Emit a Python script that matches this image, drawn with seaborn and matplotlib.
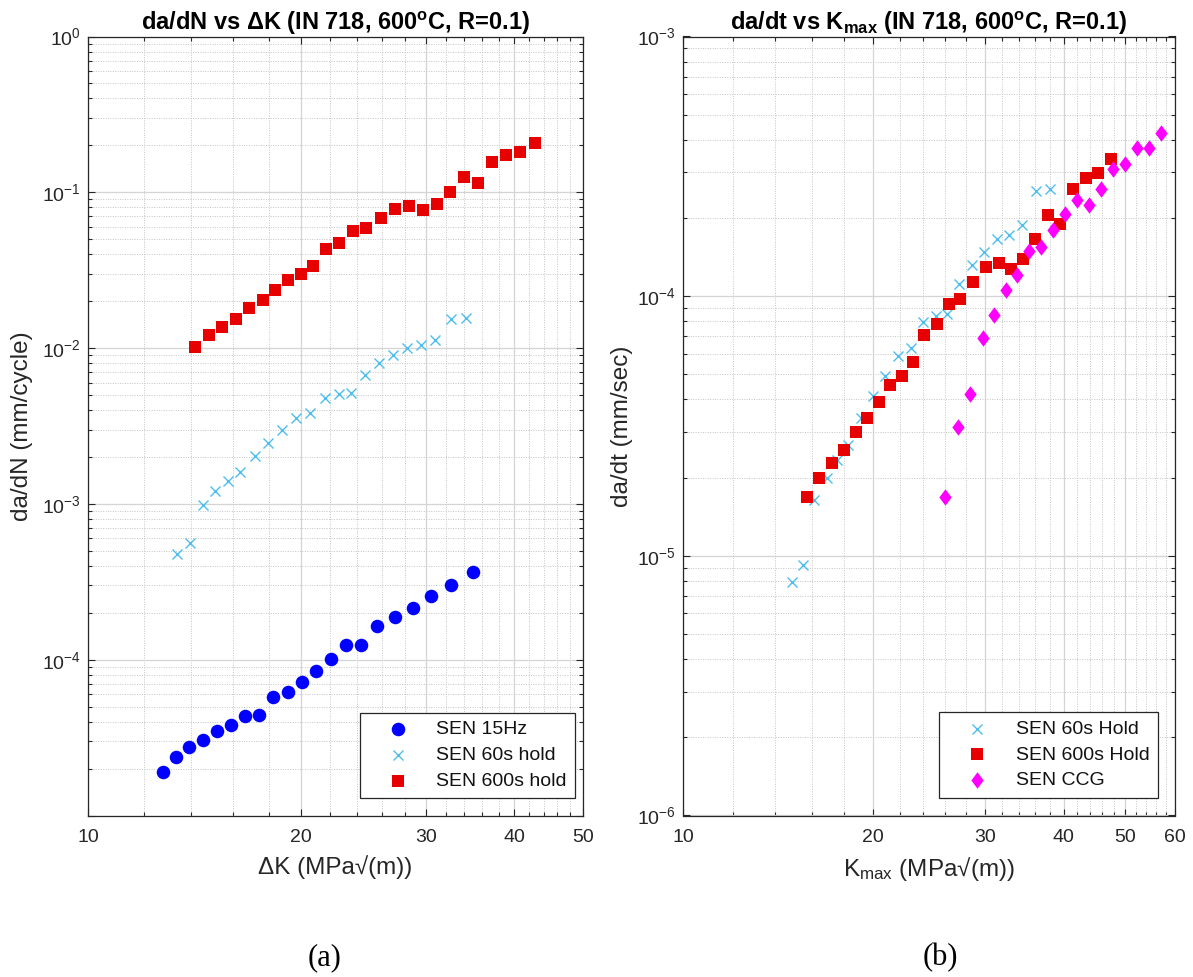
import numpy as np
import pandas as pd
import matplotlib
matplotlib.use("Agg")
import matplotlib.pyplot as plt
import matplotlib.ticker as mticker
import seaborn as sns

# ---------------- data ----------------
# (a) da/dN vs Delta K
K_15hz = [12.75, 13.32, 13.89, 14.52, 15.19, 15.90, 16.64, 17.46, 18.27, 19.13, 20.07,
          21.02, 22.07, 23.15, 24.31, 25.63, 27.13, 28.75, 30.54, 32.53, 34.98]
dadN_15hz = [1.91e-5, 2.36e-5, 2.77e-5, 3.04e-5, 3.51e-5, 3.83e-5, 4.37e-5, 4.40e-5, 5.79e-5,
             6.18e-5, 7.23e-5, 8.43e-5, 1.006e-4, 1.242e-4, 1.237e-4, 1.644e-4, 1.887e-4,
             2.134e-4, 2.56e-4, 3.03e-4, 3.66e-4]

K_60s = [13.36, 13.95, 14.52, 15.13, 15.78, 16.41, 17.19, 17.97, 18.81, 19.69, 20.60,
         21.58, 22.58, 23.53, 24.60, 25.75, 26.95, 28.20, 29.53, 30.91, 32.53, 34.19]
dadN_60s = [4.76e-4, 5.57e-4, 9.86e-4, 1.206e-3, 1.413e-3, 1.603e-3, 2.03e-3, 2.47e-3, 2.97e-3,
            3.54e-3, 3.83e-3, 4.81e-3, 5.07e-3, 5.15e-3, 6.75e-3, 8.01e-3, 9.02e-3, 1.007e-2,
            1.045e-2, 1.132e-2, 1.543e-2, 1.566e-2]

K_600s = [14.15, 14.81, 15.47, 16.18, 16.90, 17.64, 18.39, 19.16, 19.96, 20.78, 21.70, 22.63,
          23.66, 24.71, 25.92, 27.13, 28.44, 29.73, 31.09, 32.49, 34.01, 35.51, 37.20, 38.94,
          40.74, 42.77]
dadN_600s = [0.01015, 0.01206, 0.01364, 0.01528, 0.01805, 0.0204, 0.02354, 0.02756, 0.02998,
             0.03374, 0.04313, 0.0471, 0.0568, 0.0591, 0.0685, 0.0782, 0.0818, 0.0772, 0.0843,
             0.101, 0.1248, 0.1154, 0.1573, 0.1726, 0.1805, 0.2061]

# (b) da/dt vs Kmax
Kmax_60s = [14.86, 15.47, 16.12, 16.88, 17.51, 18.22, 19.10, 19.98, 20.90, 21.89, 22.93,
            24.00, 25.14, 26.14, 27.33, 28.62, 29.97, 31.39, 32.83, 34.43, 36.18, 38.08]
dadt_60s = [7.94e-6, 9.23e-6, 1.644e-5, 1.994e-5, 2.344e-5, 2.67e-5, 3.39e-5, 4.14e-5, 4.94e-5,
            5.87e-5, 6.32e-5, 7.94e-5, 8.42e-5, 8.55e-5, 1.118e-4, 1.323e-4, 1.477e-4,
            1.659e-4, 1.723e-4, 1.878e-4, 2.54e-4, 2.58e-4]

Kmax_600s = [15.73, 16.43, 17.19, 18.00, 18.76, 19.55, 20.42, 21.28, 22.18, 23.11, 24.09,
             25.20, 26.33, 27.44, 28.76, 30.16, 31.60, 33.04, 34.55, 36.06, 37.84, 39.50,
             41.37, 43.43, 45.41, 47.57]
dadt_600s = [1.688e-5, 1.994e-5, 2.277e-5, 2.55e-5, 2.99e-5, 3.39e-5, 3.90e-5, 4.56e-5,
             4.94e-5, 5.57e-5, 7.11e-5, 7.82e-5, 9.36e-5, 9.73e-5, 1.136e-4, 1.293e-4,
             1.344e-4, 1.274e-4, 1.393e-4, 1.663e-4, 2.06e-4, 1.90e-4, 2.59e-4, 2.85e-4,
             2.99e-4, 3.36e-4]

Kmax_ccg = [25.98, 27.27, 28.48, 29.80, 31.09, 32.40, 33.81, 35.31, 36.89, 38.54, 40.22,
            42.06, 43.89, 45.80, 47.80, 49.93, 52.24, 54.62, 57.05]
dadt_ccg = [1.688e-5, 3.14e-5, 4.20e-5, 6.88e-5, 8.49e-5, 1.06e-4, 1.208e-4, 1.486e-4,
            1.545e-4, 1.80e-4, 2.07e-4, 2.34e-4, 2.24e-4, 2.59e-4, 3.10e-4, 3.22e-4,
            3.73e-4, 3.73e-4, 4.26e-4]

xticks_a = [10, 20, 30, 40, 50]
xticks_b = [10, 20, 30, 40, 50, 60]

# ---------------- style ----------------
plt.rcParams['font.family'] = ['Liberation Sans', 'DejaVu Sans']
plt.rcParams['mathtext.fontset'] = 'custom'
plt.rcParams['mathtext.rm'] = 'Liberation Sans'
plt.rcParams['mathtext.it'] = 'Liberation Sans'
plt.rcParams['mathtext.bf'] = 'Liberation Sans:bold'
plt.rcParams['mathtext.default'] = 'regular'

AX_COLOR = '#262626'
FS_TICK = 14
FS_LEG = 14
FS_LABEL = 17.5
FS_TITLE = 17

W, H = 1193, 977
fig = plt.figure(figsize=(W / 100, H / 100), dpi=100)

top_px, bot_px = 36.5, 815.5


def make_ax(x0, x1):
    return fig.add_axes([x0 / W, 1 - bot_px / H, (x1 - x0) / W, (bot_px - top_px) / H])


axA = make_ax(88, 583)
axB = make_ax(683, 1175)

RED = '#e60000'
CYAN = '#4dbeee'
BLUE = '#0000ff'
MAG = '#ff00ff'
diamond = [(0, 1), (0.75, 0), (0, -1), (-0.75, 0), (0, 1)]

dfA1 = pd.DataFrame({'K': K_15hz, 'v': dadN_15hz})
dfA2 = pd.DataFrame({'K': K_60s, 'v': dadN_60s})
dfA3 = pd.DataFrame({'K': K_600s, 'v': dadN_600s})
dfB1 = pd.DataFrame({'K': Kmax_60s, 'v': dadt_60s})
dfB2 = pd.DataFrame({'K': Kmax_600s, 'v': dadt_600s})
dfB3 = pd.DataFrame({'K': Kmax_ccg, 'v': dadt_ccg})

sns.scatterplot(data=dfA1, x='K', y='v', ax=axA, marker='o', s=95, color=BLUE,
                linewidth=0, label='SEN 15Hz', zorder=3)
sns.scatterplot(data=dfA2, x='K', y='v', ax=axA, marker='x', s=52, color=CYAN,
                linewidth=1.0, label='SEN 60s hold', zorder=3)
sns.scatterplot(data=dfA3, x='K', y='v', ax=axA, marker='s', s=64, color=RED,
                linewidth=0, label='SEN 600s hold', zorder=3)

sns.scatterplot(data=dfB1, x='K', y='v', ax=axB, marker='x', s=52, color=CYAN,
                linewidth=1.0, label='SEN 60s Hold', zorder=3)
sns.scatterplot(data=dfB2, x='K', y='v', ax=axB, marker='s', s=64, color=RED,
                linewidth=0, label='SEN 600s Hold', zorder=3)
sns.scatterplot(data=dfB3, x='K', y='v', ax=axB, marker=diamond, s=140, color=MAG,
                linewidth=0, label='SEN CCG', zorder=3)


def style_axis(ax, xmax, xticks, ylo, yhi, hide_bottom_label):
    ax.set_xscale('log')
    ax.set_yscale('log')
    ax.set_xlim(10, xmax)
    ax.set_ylim(ylo, yhi)
    ax.xaxis.set_major_locator(mticker.FixedLocator(xticks))
    ax.xaxis.set_major_formatter(mticker.FixedFormatter([str(t) for t in xticks]))
    minors = [m for m in range(12, xmax, 2) if m % 10 != 0]
    ax.xaxis.set_minor_locator(mticker.FixedLocator(minors))
    ax.xaxis.set_minor_formatter(mticker.NullFormatter())
    ax.yaxis.set_major_locator(mticker.LogLocator(base=10, numticks=20))
    ax.yaxis.set_minor_locator(mticker.LogLocator(base=10, subs=np.arange(2, 10), numticks=20))
    ax.yaxis.set_minor_formatter(mticker.NullFormatter())

    def yfmt(v, pos):
        e = int(round(np.log10(v)))
        if hide_bottom_label and abs(v - ylo) < ylo * 1e-3:
            return ''
        return r'$10^{%d}$' % e
    ax.yaxis.set_major_formatter(mticker.FuncFormatter(yfmt))

    ax.grid(True, which='major', color='#d4d4d4', linewidth=0.9, linestyle='-', zorder=0)
    ax.grid(True, which='minor', color='#c4c4c4', linewidth=0.7, linestyle=(0, (1, 1.5)), zorder=0)
    ax.set_axisbelow(True)
    ax.tick_params(which='both', direction='in', top=True, right=True, colors=AX_COLOR,
                   labelsize=FS_TICK, width=0.8)
    ax.tick_params(which='major', length=5)
    ax.tick_params(which='minor', length=3)
    ax.tick_params(axis='x', which='major', pad=10)
    ax.tick_params(axis='y', which='major', pad=5)
    for sp in ax.spines.values():
        sp.set_color(AX_COLOR)
        sp.set_linewidth(0.9)


style_axis(axA, 50, xticks_a, 1e-5, 1e0, True)
style_axis(axB, 60, xticks_b, 1e-6, 1e-3, False)

axA.set_title(r'da/dN vs ΔK (IN 718, 600$^{\mathbf{o}}$C, R=0.1)', fontsize=FS_TITLE,
              fontweight='bold', pad=3)
axB.set_title(r'da/dt vs K$_{\mathbf{max}}$ (IN 718, 600$^{\mathbf{o}}$C, R=0.1)',
              fontsize=FS_TITLE, fontweight='bold', pad=3)

axA.set_xlabel('ΔK (MPa√(m))', fontsize=FS_LABEL, color=AX_COLOR)
axA.set_ylabel('da/dN (mm/cycle)', fontsize=FS_LABEL, color=AX_COLOR)
axB.set_xlabel(r'K$_{max}$ (MPa√(m))', fontsize=FS_LABEL, color=AX_COLOR)
axB.set_ylabel('da/dt (mm/sec)', fontsize=FS_LABEL, color=AX_COLOR)
axA.xaxis.set_label_coords(0.5, -0.0505)
axB.xaxis.set_label_coords(0.5, -0.0505)
axA.yaxis.set_label_coords((33 - 88) / 495, 0.5)
axB.yaxis.set_label_coords((633 - 683) / 492, 0.5)


def style_legend(ax, ax_x0, ax_w, rx, by):
    leg = ax.legend(loc='lower right',
                    bbox_to_anchor=((rx - ax_x0) / ax_w, (bot_px - by) / (bot_px - top_px)),
                    borderaxespad=0, fontsize=FS_LEG, frameon=True, fancybox=False,
                    handlelength=3.1, handletextpad=0.42, borderpad=0.42,
                    labelspacing=0.42, markerscale=1.0)
    fr = leg.get_frame()
    fr.set_edgecolor(AX_COLOR)
    fr.set_linewidth(0.9)
    fr.set_alpha(1)
    for t in leg.get_texts():
        t.set_color('#111111')
    return leg


style_legend(axA, 88, 495, 575, 798)
style_legend(axB, 683, 492, 1157.5, 797.5)

fig.text(325 / W, 1 - 958 / H, '(a)', fontsize=22, family='Liberation Serif',
         ha='center', va='center')
fig.text(940 / W, 1 - 958 / H, '(b)', fontsize=22, family='Liberation Serif',
         ha='center', va='center')

fig.savefig('out.png', dpi=100)
